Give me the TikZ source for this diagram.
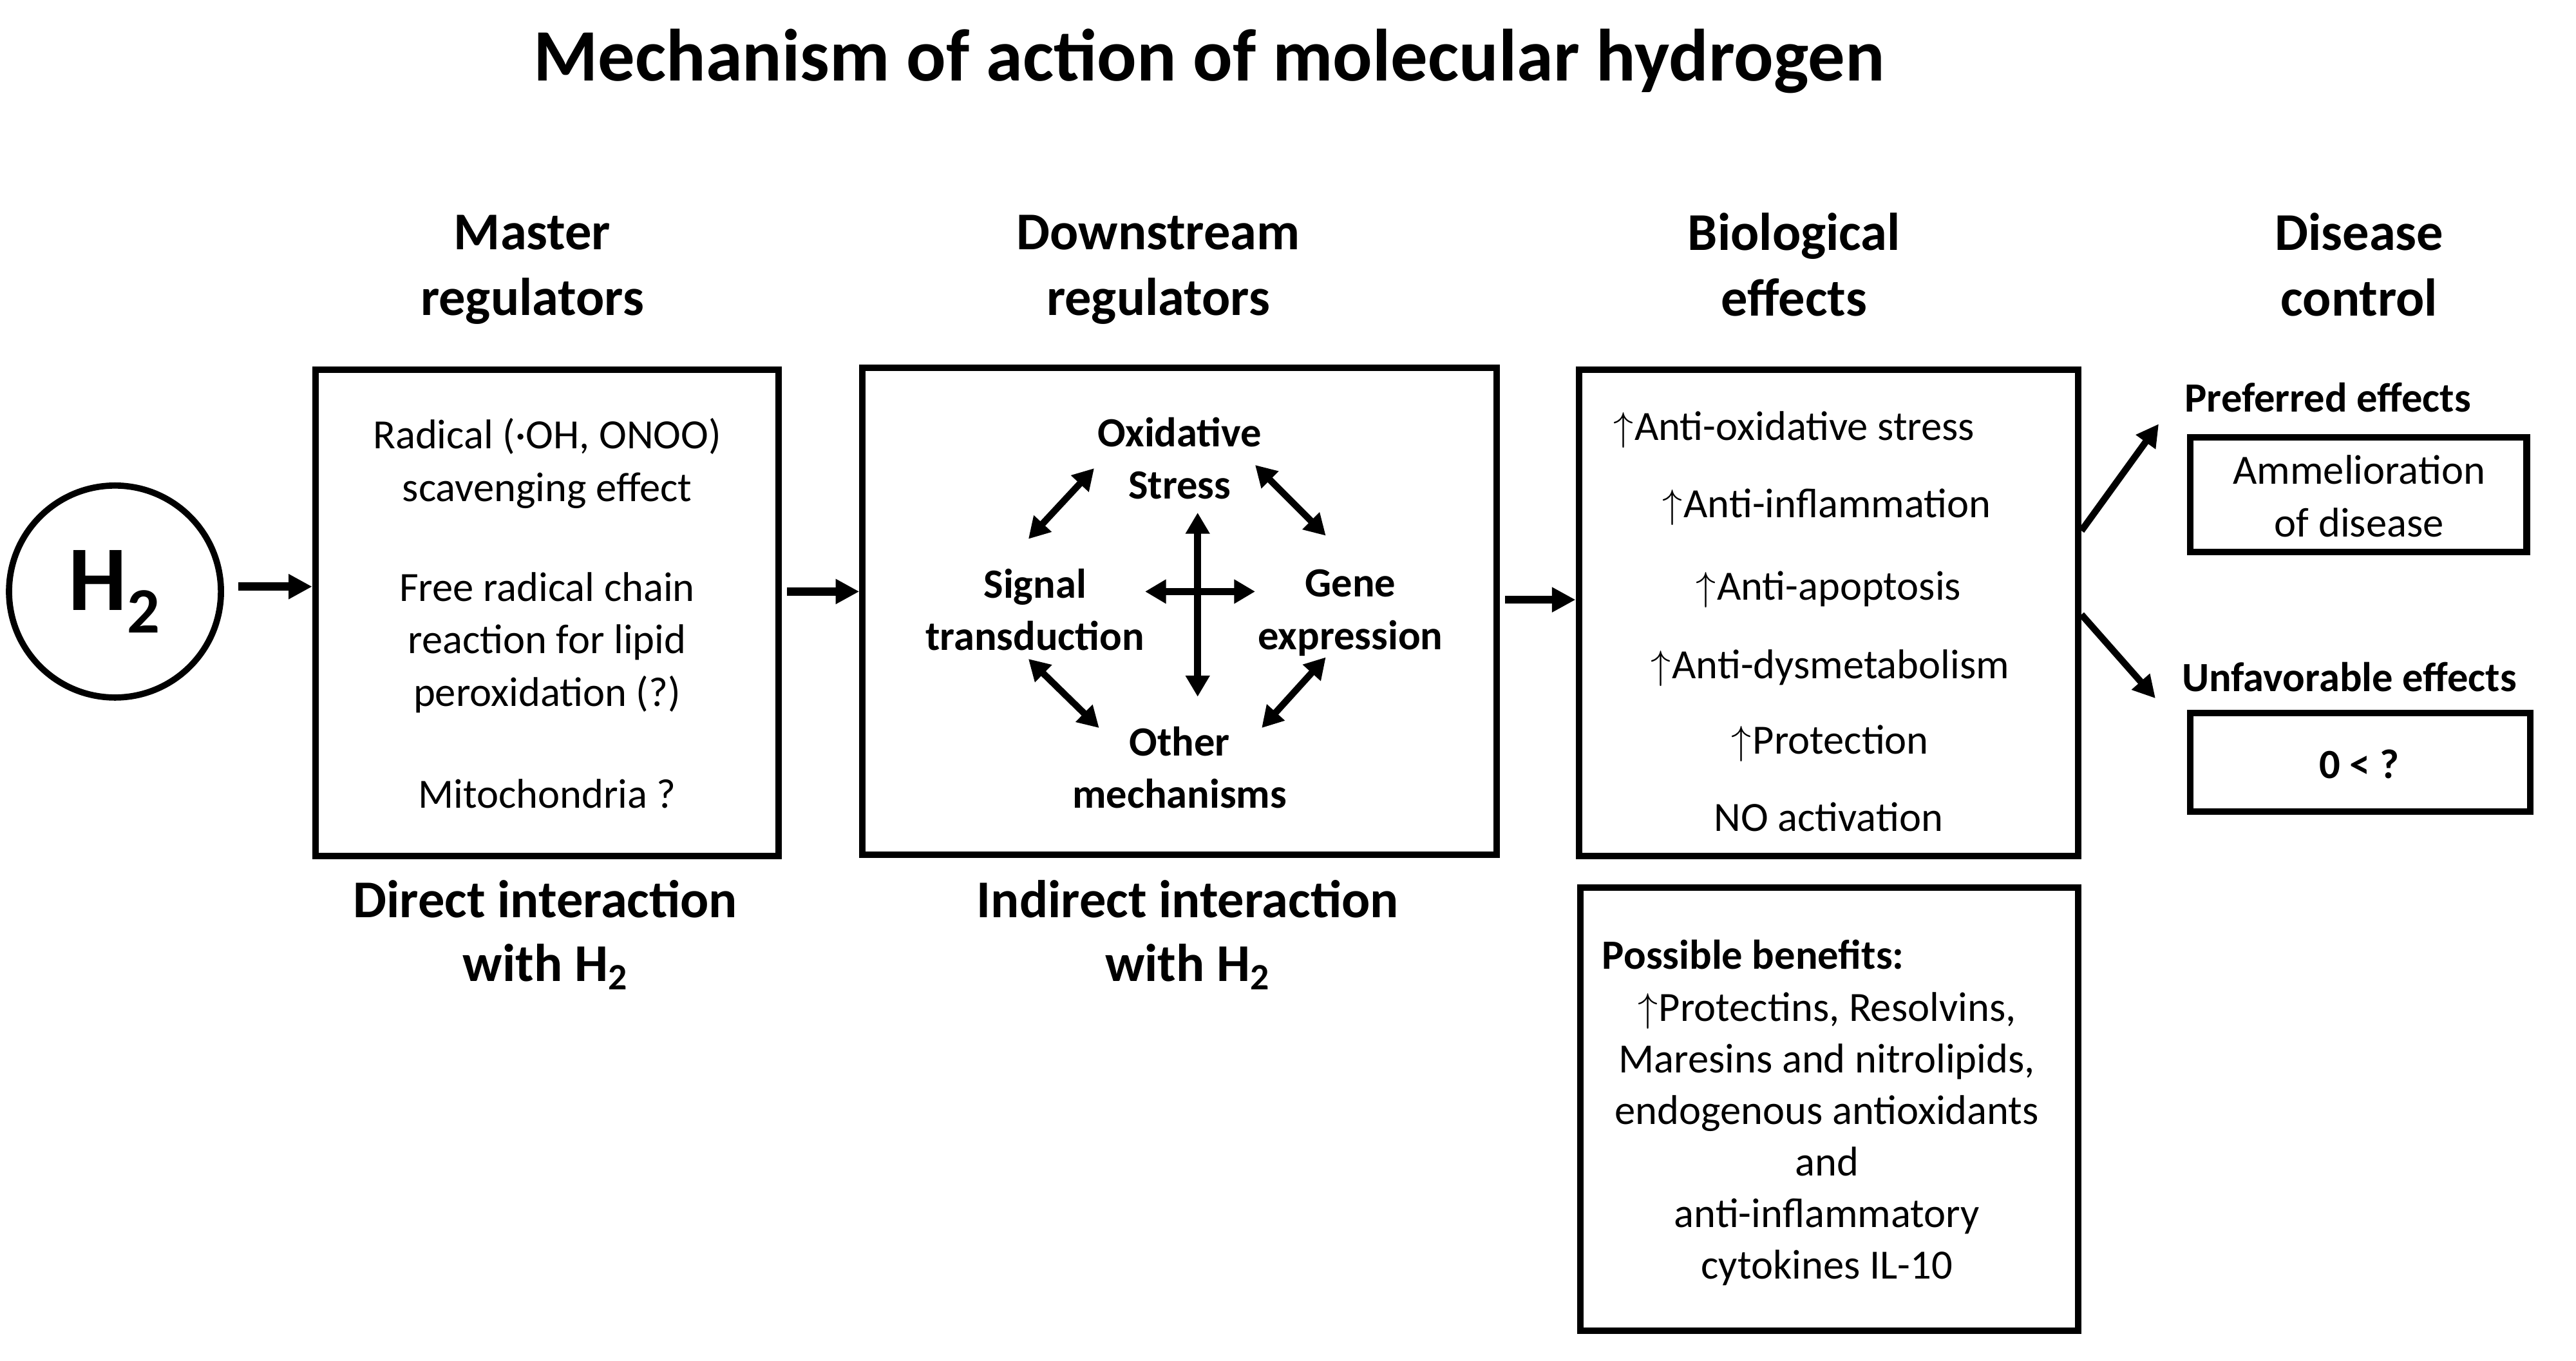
\documentclass[tikz,border=0pt]{standalone}
\usepackage{fontspec}
\setmainfont{Carlito}
\usetikzlibrary{arrows.meta,fit}
\newcommand{\upar}{$\big\uparrow$\kern0.5pt}
\begin{document}
\begin{tikzpicture}[x=0.25mm,y=-0.25mm,
  box/.style={draw, line width=2.8pt, inner sep=0pt},
  arr/.style={-{Triangle[length=3.6mm,width=3.6mm]}, line width=3.5pt},
  darr/.style={{Triangle[length=3.2mm,width=3.5mm]}-{Triangle[length=3.2mm,width=3.5mm]}, line width=2.9pt},
  xarr/.style={{Triangle[length=3.2mm,width=3.5mm]}-{Triangle[length=3.2mm,width=3.5mm]}, line width=3.2pt},
  txt/.style={font=\fontsize{18}{22.7}\selectfont, align=center, inner sep=0pt},
  btxt/.style={font=\fontsize{18}{22.7}\selectfont\bfseries, align=center, inner sep=0pt},
  hdr/.style={font=\fontsize{23}{28.4}\selectfont\bfseries, align=center, inner sep=0pt}]
\useasboundingbox (0,0) rectangle (1568,828);
% title
\node[font=\fontsize{32}{38}\selectfont\bfseries, inner sep=0pt] (title) at (736,37) {Mechanism of action of molecular hydrogen};
% headers
\node[hdr] (h1) at (324,164) {Master\\regulators};
\node[hdr] (h2h) at (705,164) {Downstream\\regulators};
\node[hdr] (h3) at (1092,161) {Biological\\effects};
\node[hdr] (h4) at (1436,161) {Disease\\control};
% H2 circle
\node[circle, draw, line width=2.7pt, minimum size=32.25mm, inner sep=0pt] (h2) at (70,360) {\fontsize{40}{40}\selectfont\bfseries H\textsubscript{2}};
% boxes
\node[box, fit={(192,225) (474,521)}] (b1) {};
\node[box, fit={(525,224) (911,520)}] (b2) {};
\node[box, fit={(961,225) (1265,521)}] (b3) {};
\node[box, fit={(962,540) (1265,810)}] (b4) {};
\node[box, fit={(1333,266) (1538,336)}] (b5) {};
\node[box, fit={(1333,434) (1540,494)}] (b6) {};
% box 1 text
\node[txt] (t11) at (333,282) {Radical (·OH, ONOO)\\scavenging effect};
\node[txt] (t12) at (333,391) {Free radical chain\\reaction for lipid\\peroxidation (?)};
\node[txt] (t13) at (333,483) {Mitochondria ?};
% box 2 text
\node[btxt] (ox) at (718,279) {Oxidative\\Stress};
\node[btxt] (sig) at (630,371) {Signal\\transduction};
\node[btxt] (gene) at (822,373) {Gene\\expression};
\node[btxt] (oth) at (718,467) {Other\\mechanisms};
\coordinate (vt) at (729,312); \coordinate (vb) at (729,424);
\coordinate (hl) at (697,360); \coordinate (hr) at (764,360);
\coordinate (ul1) at (626,328); \coordinate (ul2) at (666,285);
\coordinate (ur1) at (764,283); \coordinate (ur2) at (807,326);
\coordinate (ll1) at (626,401); \coordinate (ll2) at (669,443);
\coordinate (lr1) at (768,443); \coordinate (lr2) at (807,400);
\draw[xarr] (vt) -- (vb);
\draw[xarr] (hl) -- (hr);
\draw[darr] (ul1) -- (ul2);
\draw[darr] (ur1) -- (ur2);
\draw[darr] (ll1) -- (ll2);
\draw[darr] (lr1) -- (lr2);
% box 3 text
\node[txt, anchor=base] (e1) at (1092,268) {\upar Anti-oxidative stress};
\node[txt, anchor=base] (e2) at (1112,315) {\upar Anti-inflammation};
\node[txt, anchor=base] (e3) at (1113,365) {\upar Anti-apoptosis};
\node[txt, anchor=base] (e4) at (1114,413) {\upar Anti-dysmetabolism};
\node[txt, anchor=base] (e5) at (1114,459) {\upar Protection};
\node[txt, anchor=base] (e6) at (1113,506) {NO activation};
% box 4 text
\node[btxt, anchor=west] (pb) at (975,581) {Possible benefits:};
\node[txt, font=\fontsize{18}{22.3}\selectfont] (pbt) at (1112,693) {\upar Protectins, Resolvins,\\Maresins and nitrolipids,\\endogenous antioxidants\\and\\anti-inflammatory\\cytokines IL-10};
% disease control
\node[btxt] (pref) at (1417,242) {Preferred effects};
\node[btxt] (unf) at (1430,412) {Unfavorable effects};
\node[txt] (amm) at (1436,302) {Ammelioration\\of disease};
\node[btxt] (zero) at (1436,465) {0 < ?};
% bottom labels
\node[hdr, font=\fontsize{23}{27.6}\selectfont\bfseries] (d1) at (332,569) {Direct interaction\\with H\textsubscript{2}};
\node[hdr, font=\fontsize{23}{27.6}\selectfont\bfseries] (d2) at (723,569) {Indirect interaction\\with H\textsubscript{2}};
% main arrows
\draw[arr, shorten <=2.2mm] (h2.east |- 0,357) -- (b1.west |- 0,357);
\draw[arr, shorten <=0.8mm] (b1.east |- 0,360) -- (b2.west |- 0,360);
\draw[arr, shorten <=0.8mm] (b2.east |- 0,365) -- (b3.west |- 0,365);
\coordinate (pe) at (1314,258);
\coordinate (ue) at (1312,425);
\draw[darr, -{Triangle[length=3.4mm,width=3.5mm]}] (b3.east |- 0,323) -- (pe);
\draw[darr, -{Triangle[length=3.4mm,width=3.5mm]}] (b3.east |- 0,374) -- (ue);
\end{tikzpicture}
\end{document}
